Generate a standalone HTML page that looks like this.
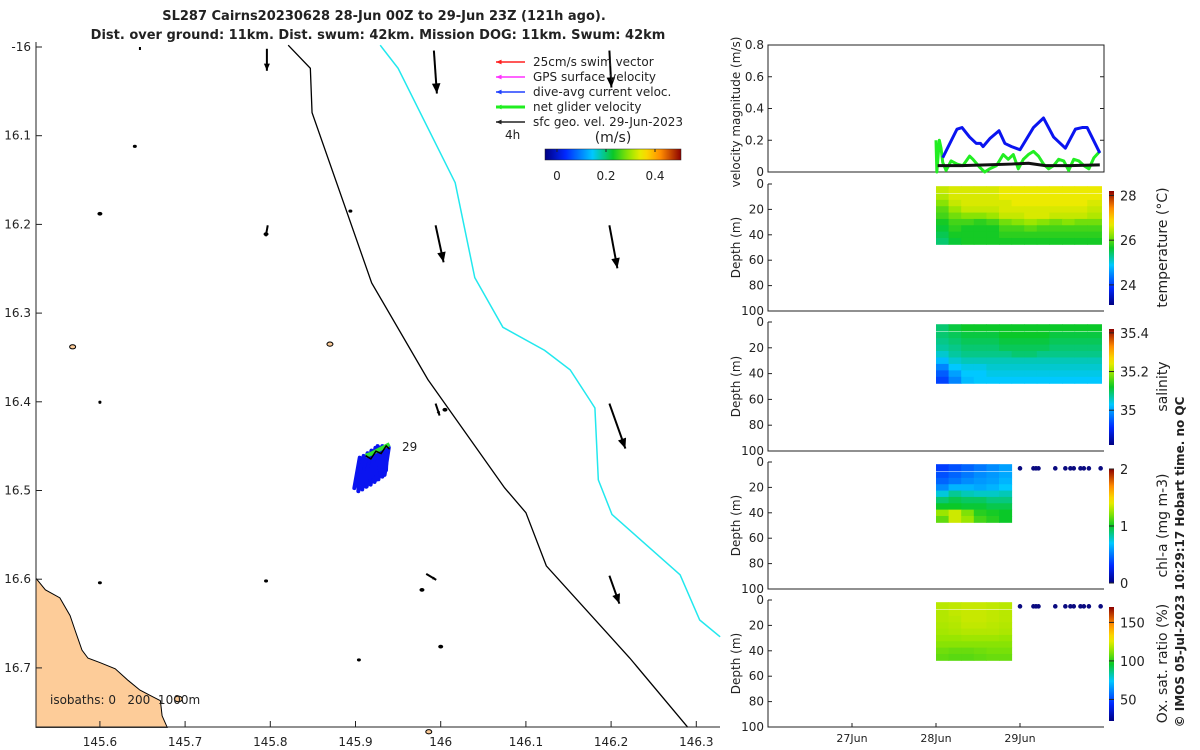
<!DOCTYPE html>
<html><head><meta charset="utf-8">
<style>
html,body{margin:0;padding:0;background:#fff;}
svg{display:block;font-family:"DejaVu Sans","Liberation Sans",sans-serif;}
text{fill:#222;}
</style></head>
<body>
<svg id="fig" width="1200" height="750" viewBox="0 0 1200 750" xmlns="http://www.w3.org/2000/svg">
<text x="384" y="20" font-size="13" font-weight="bold" text-anchor="middle">SL287 Cairns20230628 28-Jun 00Z to 29-Jun 23Z (121h ago).</text>
<text x="378" y="39" font-size="13" font-weight="bold" text-anchor="middle">Dist. over ground: 11km. Dist. swum: 42km. Mission DOG: 11km. Swum: 42km</text>
<g id="map"></g>
<g id="right"></g>
<text transform="translate(1184,562) rotate(-90)" font-size="12" font-weight="bold" text-anchor="middle">© IMOS 05-Jul-2023 10:29:17 Hobart time. no QC</text>
</svg>
<script>
// ---------- MAP DATA ----------
const lonTicks=[145.6,145.7,145.8,145.9,146.0,146.1,146.2,146.3];
const latTicks=[16.0,16.1,16.2,16.3,16.4,16.5,16.6,16.7];
const lonTickLabels=["145.6","145.7","145.8","145.9","146","146.1","146.2","146.3"];
const latTickLabels=["-16","16.1","16.2","16.3","16.4","16.5","16.6","16.7"];
const iso200Lon=[145.821,145.847,145.849,145.919,145.985,146.075,146.100,146.124,146.222,146.290];
const iso200Lat=[15.998,16.024,16.074,16.266,16.375,16.497,16.525,16.585,16.689,16.767];
const iso1000Lon=[145.929,145.950,146.017,146.040,146.073,146.122,146.152,146.175,146.181,146.185,146.201,146.281,146.304,146.328];
const iso1000Lat=[15.998,16.024,16.153,16.260,16.316,16.342,16.364,16.398,16.407,16.488,16.527,16.595,16.646,16.665];
const landLon=[145.525,145.536,145.553,145.565,145.571,145.579,145.586,145.600,145.618,145.633,145.647,145.659,145.671,145.673,145.679,145.525];
const landLat=[16.599,16.612,16.621,16.641,16.658,16.680,16.689,16.694,16.701,16.714,16.725,16.731,16.737,16.754,16.767,16.767];
const geoLon=[145.992,145.796,146.198,145.994,146.198,145.797,146.198,145.994,145.983,146.198,145.647];
const geoLat=[16.004,16.002,16.004,16.201,16.201,16.201,16.402,16.402,16.594,16.596,16.000];
const geoU=[0.03,0.0,0.02,0.08,0.08,-0.02,0.16,0.04,0.10,0.10,0.0];
const geoV=[-0.43,-0.22,-0.37,-0.37,-0.43,-0.11,-0.45,-0.12,-0.06,-0.28,-0.03];
const islLon=[145.641,145.600,145.600,145.795,145.894,145.568,145.600,145.870,146.005,145.600,145.795,145.978,146.000,145.904,145.692,145.986];
const islLat=[16.112,16.188,16.400,16.211,16.185,16.338,16.401,16.335,16.409,16.604,16.602,16.612,16.676,16.691,16.735,16.772];
const islR=[1.5,2,1,2,1.5,3,1,3,2,1.5,1.5,2,2,1.5,4,3];
const trackLon=[145.912,145.918,145.924,145.930,145.936,145.940];
const trackLat=[16.463,16.461,16.458,16.455,16.452,16.450];
const daU=[-0.09,-0.05,-0.10,-0.03,-0.08,-0.06,-0.02,-0.07];
const daV=[-0.38,-0.40,-0.30,-0.36,-0.26,-0.22,-0.30,-0.34];

// ---------- TIMESERIES DATA ----------
const dayTicks=[1,2,3];
const dayTickLabels=["27Jun","28Jun","29Jun"];
const velTicks=[0,0.2,0.4,0.6,0.8];
const blueT=[2.08,2.25,2.31,2.40,2.48,2.53,2.56,2.64,2.75,2.82,2.90,3.0,3.16,3.28,3.40,3.54,3.66,3.74,3.80,3.95];
const blueV=[0.09,0.27,0.28,0.22,0.18,0.18,0.16,0.21,0.26,0.18,0.16,0.14,0.28,0.34,0.22,0.15,0.27,0.28,0.28,0.12];
const greenT=[2.0,2.01,2.04,2.06,2.08,2.12,2.18,2.25,2.32,2.40,2.44,2.52,2.58,2.64,2.72,2.80,2.86,2.92,2.98,3.04,3.10,3.16,3.22,3.28,3.34,3.40,3.46,3.52,3.58,3.64,3.70,3.76,3.82,3.88,3.95];
const greenV=[0.2,0.0,0.2,0.15,0.06,0.01,0.07,0.05,0.04,0.10,0.08,0.03,0.0,0.02,0.04,0.11,0.08,0.11,0.02,0.08,0.11,0.13,0.10,0.05,0.02,0.04,0.08,0.07,0.01,0.08,0.07,0.04,0.02,0.09,0.13];
const blackT=[2.02,2.3,2.6,2.9,3.1,3.3,3.6,3.95];
const blackV=[0.04,0.04,0.045,0.05,0.055,0.04,0.04,0.045];
const depthTicks=[0,20,40,60,80,100];
const gridDepths=[5,10,15,20,25,30,35,40,45];
const tsTimes=[2.0,2.15,2.3,2.45,2.6,2.75,2.9,3.05,3.2,3.35,3.5,3.65,3.8];
const bgcTimes=[2.0,2.15,2.3,2.45,2.6,2.75];
const tempVals=[
[26.5,26.6,26.6,26.6,26.6,26.7,26.7,26.7,26.7,26.7,26.7,26.7,26.7],
[26.4,26.6,26.6,26.6,26.6,26.7,26.7,26.7,26.7,26.7,26.7,26.7,26.7],
[26.2,26.5,26.6,26.6,26.6,26.6,26.7,26.7,26.7,26.7,26.7,26.7,26.6],
[26.0,26.3,26.5,26.5,26.5,26.6,26.6,26.6,26.6,26.6,26.6,26.6,26.5],
[25.9,26.1,26.2,26.2,26.3,26.5,26.5,26.6,26.6,26.5,26.5,26.5,26.4],
[25.7,25.9,25.9,25.8,25.9,26.1,26.2,26.3,26.2,26.1,26.2,26.1,26.1],
[25.6,25.8,25.7,25.7,25.7,25.9,25.9,26.0,25.9,25.9,25.9,25.9,25.9],
[25.5,25.7,25.7,25.7,25.7,25.8,25.8,25.8,25.8,25.8,25.8,25.8,25.8],
[25.4,25.6,25.7,25.7,25.7,25.7,25.7,25.7,25.7,25.7,25.7,25.7,25.7]];
const salVals=[
[35.09,35.11,35.12,35.12,35.12,35.12,35.12,35.12,35.12,35.12,35.12,35.12,35.12],
[35.09,35.10,35.11,35.11,35.11,35.12,35.12,35.12,35.12,35.11,35.11,35.11,35.11],
[35.08,35.09,35.10,35.10,35.10,35.11,35.11,35.11,35.11,35.10,35.10,35.10,35.10],
[35.07,35.08,35.09,35.09,35.09,35.10,35.10,35.10,35.10,35.09,35.09,35.09,35.09],
[35.05,35.07,35.08,35.08,35.08,35.08,35.09,35.09,35.08,35.08,35.08,35.08,35.08],
[35.02,35.05,35.06,35.06,35.06,35.06,35.06,35.06,35.06,35.06,35.06,35.06,35.06],
[34.98,35.03,35.04,35.04,35.05,35.05,35.05,35.05,35.05,35.05,35.05,35.05,35.05],
[34.95,35.00,35.03,35.03,35.04,35.04,35.04,35.04,35.04,35.04,35.04,35.04,35.04],
[34.93,34.98,35.02,35.03,35.03,35.03,35.03,35.03,35.03,35.03,35.03,35.03,35.03]];
const chlVals=[
[0.35,0.4,0.45,0.5,0.55,0.6],
[0.4,0.45,0.5,0.55,0.58,0.62],
[0.45,0.5,0.55,0.58,0.6,0.65],
[0.55,0.65,0.65,0.62,0.65,0.7],
[0.75,0.85,0.8,0.78,0.78,0.8],
[0.9,0.95,0.92,0.92,0.88,0.88],
[1.0,1.0,0.98,0.98,0.95,0.95],
[1.25,1.35,1.2,1.05,1.02,1.0],
[1.15,1.35,1.25,1.1,1.05,1.0]];
const oxVals=[
[119,120,121,121,120,119],
[118,120,121,121,120,119],
[118,119,121,121,120,119],
[117,118,120,120,119,118],
[116,117,118,118,118,117],
[114,114,115,115,115,114],
[112,112,112,112,112,112],
[109,108,108,109,110,110],
[107,106,106,107,108,108]];
const dotTimes=[3.0,3.16,3.19,3.22,3.42,3.54,3.6,3.64,3.72,3.76,3.82,3.96];

// ---------- HELPERS ----------
const NS="http://www.w3.org/2000/svg";
function mk(tag,attrs,parent){const e=document.createElementNS(NS,tag);for(const k in attrs)e.setAttribute(k,attrs[k]);parent.appendChild(e);return e;}
const cmapStops=[[0,0,0,130],[0.15,0,40,255],[0.35,0,200,255],[0.5,10,200,40],[0.62,150,230,0],[0.72,250,235,0],[0.85,255,140,0],[1,140,0,0]];
function jet(f){f=Math.max(0,Math.min(1,f));for(let i=1;i<cmapStops.length;i++){const a=cmapStops[i-1],b=cmapStops[i];if(f<=b[0]){const t=(f-a[0])/(b[0]-a[0]);return `rgb(${Math.round(a[1]+t*(b[1]-a[1]))},${Math.round(a[2]+t*(b[2]-a[2]))},${Math.round(a[3]+t*(b[3]-a[3]))})`;}}return 'rgb(140,0,0)';}
const mapG=document.getElementById('map');
const X=lon=>36+(lon-145.525)*852;
const Y=lat=>47+(lat-16)*887;

let e=mk('polygon',{points:landLon.map((l,i)=>X(l)+','+Y(landLat[i])).join(' '),fill:'#fdcc99',stroke:'#000','stroke-width':1},mapG);


e=mk('polyline',{points:iso200Lon.map((l,i)=>X(l)+','+Y(iso200Lat[i])).join(' '),fill:'none',stroke:'#000','stroke-width':1.3},mapG);


e=mk('polyline',{points:iso1000Lon.map((l,i)=>X(l)+','+Y(iso1000Lat[i])).join(' '),fill:'none',stroke:'#22e8ee','stroke-width':1.5},mapG);


islLon.forEach((l,i)=>{
  const c=mk('ellipse',{cx:X(l),cy:Y(islLat[i]),rx:islR[i],ry:islR[i]*0.7,fill:islR[i]>2?'#fdcc99':'#000',stroke:'#000','stroke-width':1},mapG);
  
  
});
function arrow(x1,y1,x2,y2,col,w,name,head){
  const g=mk('g',{},mapG);
  
  
  mk('line',{x1:x1,y1:y1,x2:x2,y2:y2,stroke:col,'stroke-width':w},g);
  const a=Math.atan2(y2-y1,x2-x1),h=head||8;
  const p=[[x2,y2],[x2-h*Math.cos(a-0.4),y2-h*Math.sin(a-0.4)],[x2-h*Math.cos(a+0.4),y2-h*Math.sin(a+0.4)]];
  mk('polygon',{points:p.map(q=>q.join(',')).join(' '),fill:col},g);
}
const geoScale=100;
geoLon.forEach((l,i)=>{
  const x=X(l),y=Y(geoLat[i]);
  arrow(x,y,x+geoU[i]*geoScale,y-geoV[i]*geoScale,'#000',2,'geostrophic-velocity-arrow',Math.min(11,Math.hypot(geoU[i],geoV[i])*geoScale*0.35));
});
trackLon.forEach((l,i)=>{
  for(let k=0;k<daU.length;k++){
    const x=X(l)-6+k*1.6-i*1.2,y=Y(trackLat[i])+(k%3)*1.5;
    const ln=mk('line',{x1:x,y1:y,x2:x+daU[k]*60,y2:y-daV[k]*80,stroke:'#0a14f0','stroke-width':4,'stroke-linecap':'round'},mapG);
    
    
  }
});
e=mk('polyline',{points:trackLon.map((l,i)=>X(l)+','+(Y(trackLat[i])-2)).join(' '),fill:'none',stroke:'#2fe02f','stroke-width':4},mapG);


e=mk('polyline',{points:trackLon.map((l,i)=>X(l)+','+(Y(trackLat[i])+(i%2?3:-2))).join(' '),fill:'none',stroke:'#000','stroke-width':1.5},mapG);


e=mk('text',{x:402,y:451,'font-size':12},mapG);e.textContent='29';


e=mk('path',{d:'M36,42 V727 H720',fill:'none',stroke:'#222','stroke-width':1},mapG);


lonTicks.forEach((l,i)=>{
  mk('line',{x1:X(l),y1:727,x2:X(l),y2:721,stroke:'#222'},mapG);
  const t=mk('text',{x:X(l),y:746,'font-size':12,'text-anchor':'middle'},mapG);t.textContent=lonTickLabels[i];
  
  
});
latTicks.forEach((l,i)=>{
  mk('line',{x1:36,y1:Y(l),x2:42,y2:Y(l),stroke:'#222'},mapG);
  const t=mk('text',{x:31,y:Y(l)+4,'font-size':12,'text-anchor':'end'},mapG);t.textContent=latTickLabels[i];
  
  
});
e=mk('text',{x:50,y:704,'font-size':12},mapG);e.textContent='isobaths: 0\u00a0\u00a0\u00a0200\u00a0\u00a01000m';


const legLabels=['25cm/s swim vector','GPS surface velocity','dive-avg current veloc.','net glider velocity','sfc geo. vel. 29-Jun-2023'];
const legCols=['#ff2020','#ff30ff','#2040ff','#20ee20','#222'];
legLabels.forEach((s,i)=>{
  const y=62+i*15;
  arrow(525,y,496,y,legCols[i],i==3?3:1.5,'legend-arrow',6);
  const t=mk('text',{x:533,y:y+4,'font-size':12},mapG);t.textContent=s;
  
  
});
e=mk('text',{x:505,y:139,'font-size':12},mapG);e.textContent='4h';


e=mk('text',{x:613,y:142,'font-size':14,'text-anchor':'middle'},mapG);e.textContent='(m/s)';


const defs=mk('defs',{},document.getElementById('fig'));
function grad(id,vert){const g=mk('linearGradient',{id:id,x1:0,y1:vert?1:0,x2:vert?0:1,y2:0},defs);for(let i=0;i<=20;i++)mk('stop',{offset:i/20,'stop-color':jet(i/20)},g);}
grad('jh',false);grad('jv',true);
e=mk('rect',{x:545,y:149,width:136,height:11,fill:'url(#jh)',stroke:'#222','stroke-width':0.5},mapG);


[[0,'0'],[0.2,'0.2'],[0.4,'0.4']].forEach(v=>{
  const x=557+v[0]*245;
  mk('line',{x1:x,y1:149,x2:x,y2:152,stroke:'#222'},mapG);
  const t=mk('text',{x:x,y:180,'font-size':12,'text-anchor':'middle'},mapG);t.textContent=v[1];
  
  
});

// ---------- RIGHT PANELS ----------
const R=document.getElementById('right');
const TX=t=>768+84*t;
const PL=768,PR=1104;
const VT=45,VB=172;const VY=v=>VB-(v/0.8)*(VB-VT);
e=mk('rect',{x:PL,y:VT,width:PR-PL,height:VB-VT,fill:'none',stroke:'#222'},R);


velTicks.forEach(v=>{
  mk('line',{x1:PL,y1:VY(v),x2:PL+4,y2:VY(v),stroke:'#222'},R);
  mk('line',{x1:PR,y1:VY(v),x2:PR-4,y2:VY(v),stroke:'#222'},R);
  const t=mk('text',{x:PL-4,y:VY(v)+4,'font-size':12,'text-anchor':'end'},R);t.textContent=String(v);
  
  
});
e=mk('text',{transform:`translate(740,112) rotate(-90)`,'font-size':12,'text-anchor':'middle'},R);e.textContent='velocity magnitude (m/s)';


function series(T,V,col,w){return mk('polyline',{points:T.map((t,i)=>TX(t)+','+VY(V[i])).join(' '),fill:'none',stroke:col,'stroke-width':w,'stroke-linejoin':'round'},R);}
e=series(greenT,greenV,'#22ee22',3);


e=series(blackT,blackV,'#111',3);


e=series(blueT,blueV,'#0a14f0',3);



const panels=[
 {top:184,bot:311,vals:tempVals,times:tsTimes,min:23.1,max:28.2,ticks:[[24,'24'],[26,'26'],[28,'28']],label:'temperature (°C)',dots:false,name:'temperature'},
 {top:322,bot:451,vals:salVals,times:tsTimes,min:34.82,max:35.42,ticks:[[35,'35'],[35.2,'35.2'],[35.4,'35.4']],label:'salinity',dots:false,name:'salinity'},
 {top:462,bot:589,vals:chlVals,times:bgcTimes,min:0,max:2,ticks:[[0,'0'],[1,'1'],[2,'2']],label:'chl-a (mg m-3)',dots:true,name:'chlorophyll'},
 {top:600,bot:727,vals:oxVals,times:bgcTimes,min:22,max:170,ticks:[[50,'50'],[100,'100'],[150,'150']],label:'Ox. sat. ratio (%)',dots:true,name:'oxygen'}
];
panels.forEach((P,pi)=>{
  const DY=d=>P.top+(d/100)*(P.bot-P.top);
  const g=mk('g',{},R);
  
  
  const dt=P.times[1]-P.times[0];
  P.vals.forEach((row,di)=>{
    row.forEach((v,ti)=>{
      const x0=TX(P.times[ti]);
      let w=84*dt;
      if(ti==P.times.length-1)w=pi<2?84*0.17:84*0.15;
      const c=mk('rect',{x:x0,y:DY(gridDepths[di]-2.5)-(di==0?1:0),width:w+0.5,height:DY(5)-DY(0)+0.5,fill:jet((v-P.min)/(P.max-P.min))},g);
      
      
    });
  });
  if(P.dots){dotTimes.forEach(t=>{const d=mk('circle',{cx:TX(t),cy:DY(5),r:2.3,fill:'#0a0a80'},g);
    
    });}
  mk('path',{d:`M${PL},${P.top} V${P.bot} H${PR}`,fill:'none',stroke:'#222'},g);
  depthTicks.forEach(d=>{
    mk('line',{x1:PL,y1:DY(d),x2:PL+4,y2:DY(d),stroke:'#222'},g);
    const t=mk('text',{x:PL-4,y:DY(d)+4,'font-size':12,'text-anchor':'end'},g);t.textContent=String(d);
    
    
  });
  const yl=mk('text',{transform:`translate(740,${(P.top+P.bot)/2}) rotate(-90)`,'font-size':12,'text-anchor':'middle'},g);yl.textContent='Depth (m)';
  
  
  const cbT=P.top+7,cbB=P.bot-6;
  const cb=mk('rect',{x:1109,y:cbT,width:5,height:cbB-cbT,fill:'url(#jv)'},g);
  
  
  P.ticks.forEach(tk=>{
    const y=cbB-(tk[0]-P.min)/(P.max-P.min)*(cbB-cbT);
    mk('line',{x1:1109,y1:y,x2:1114,y2:y,stroke:'#222'},g);
    const t=mk('text',{x:1120,y:y+5,'font-size':13},g);t.textContent=tk[1];
    
    
  });
  const cl=mk('text',{transform:`translate(1167,${(P.top+P.bot)/2}) rotate(-90)`,'font-size':14,'text-anchor':'middle'},g);cl.textContent=P.label;
  
  
});
dayTicks.forEach((d,i)=>{
  mk('line',{x1:TX(d),y1:727,x2:TX(d),y2:723,stroke:'#222'},R);
  const t=mk('text',{x:TX(d),y:742,'font-size':11,'text-anchor':'middle'},R);t.textContent=dayTickLabels[i];
  
  
});
</script>
</body></html>
